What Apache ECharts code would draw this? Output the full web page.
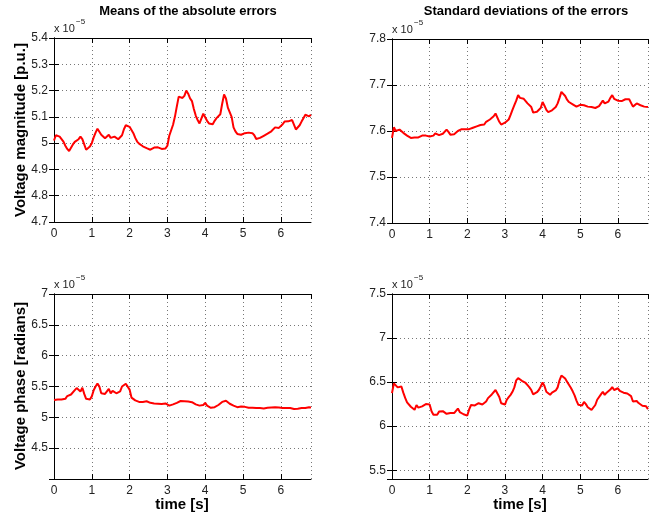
<!DOCTYPE html>
<html>
<head>
<meta charset="utf-8">
<script src="https://cdn.jsdelivr.net/npm/echarts@6/dist/echarts.min.js"></script>
<style>html,body{margin:0;padding:0;background:#fff;}#c{width:661px;height:518px;}</style>
</head>
<body>
<div id="c"></div>
<script>
// time sampling (s)
const tStart = 0;
const tStep = 0.05;
const xTicks = [0, 1, 2, 3, 4, 5, 6];

// values in units of 1e-5
const meanMagnitude = [
5.010,5.030,5.030,5.025,5.020,5.006,4.990,4.978,4.970,4.972,
4.995,5.005,5.010,5.015,5.025,5.015,4.995,4.975,4.980,4.987,
5.000,5.022,5.040,5.055,5.050,5.032,5.028,5.019,5.025,5.032,
5.020,5.018,5.025,5.020,5.015,5.012,5.030,5.053,5.068,5.070,
5.062,5.050,5.038,5.020,5.006,4.998,4.992,4.988,4.985,4.981,
4.978,4.975,4.980,4.983,4.987,4.984,4.981,4.978,4.975,4.980,
4.990,5.028,5.034,5.070,5.101,5.140,5.177,5.180,5.172,5.180,
5.200,5.188,5.170,5.160,5.130,5.105,5.088,5.075,5.080,5.112,
5.105,5.085,5.075,5.068,5.072,5.085,5.095,5.100,5.110,5.150,
5.185,5.170,5.135,5.128,5.100,5.060,5.045,5.035,5.030,5.032,
5.035,5.038,5.036,5.040,5.042,5.038,5.030,5.016,5.018,5.020,
5.020,5.028,5.032,5.036,5.042,5.045,5.052,5.060,5.063,5.058,
5.060,5.072,5.082,5.084,5.083,5.085,5.088,5.095,5.052,5.055,
5.068,5.082,5.095,5.108,5.105,5.102,5.108
];
const stdMagnitude = [
7.585,7.608,7.600,7.598,7.603,7.600,7.596,7.593,7.590,7.588,
7.585,7.584,7.586,7.587,7.586,7.588,7.590,7.591,7.590,7.589,
7.588,7.587,7.590,7.595,7.593,7.591,7.592,7.594,7.597,7.603,
7.598,7.592,7.591,7.593,7.596,7.600,7.602,7.604,7.603,7.604,
7.605,7.604,7.607,7.607,7.609,7.610,7.612,7.613,7.616,7.614,
7.620,7.623,7.625,7.628,7.632,7.638,7.636,7.620,7.614,7.613,
7.618,7.622,7.625,7.635,7.646,7.656,7.666,7.678,7.672,7.668,
7.670,7.668,7.660,7.656,7.652,7.640,7.636,7.642,7.644,7.650,
7.663,7.655,7.646,7.641,7.643,7.645,7.648,7.652,7.660,7.672,
7.685,7.684,7.676,7.668,7.663,7.660,7.658,7.655,7.653,7.653,
7.657,7.658,7.656,7.654,7.653,7.654,7.652,7.651,7.650,7.652,
7.654,7.658,7.666,7.660,7.660,7.664,7.672,7.678,7.670,7.670,
7.666,7.667,7.665,7.668,7.669,7.668,7.669,7.665,7.653,7.655,
7.660,7.660,7.656,7.655,7.653,7.650,7.652
];
const meanPhase = [
5.280,5.300,5.290,5.295,5.290,5.285,5.300,5.345,5.360,5.370,
5.400,5.440,5.475,5.460,5.420,5.480,5.380,5.300,5.310,5.290,
5.340,5.440,5.500,5.550,5.500,5.390,5.410,5.380,5.400,5.460,
5.390,5.430,5.410,5.390,5.400,5.420,5.500,5.530,5.545,5.540,
5.450,5.320,5.290,5.275,5.260,5.250,5.245,5.250,5.255,5.260,
5.240,5.235,5.230,5.225,5.220,5.220,5.218,5.215,5.220,5.225,
5.210,5.190,5.195,5.210,5.218,5.235,5.255,5.265,5.255,5.260,
5.262,5.255,5.250,5.245,5.230,5.210,5.205,5.190,5.180,5.200,
5.235,5.190,5.170,5.155,5.150,5.165,5.180,5.200,5.230,5.250,
5.275,5.270,5.240,5.220,5.200,5.190,5.175,5.165,5.170,5.175,
5.180,5.170,5.160,5.155,5.150,5.155,5.152,5.150,5.145,5.150,
5.147,5.145,5.150,5.155,5.152,5.160,5.168,5.165,5.160,5.158,
5.155,5.150,5.155,5.150,5.155,5.150,5.140,5.135,5.130,5.140,
5.145,5.150,5.155,5.150,5.155,5.165,5.160
];
const stdPhase = [
6.375,6.485,6.480,6.440,6.445,6.450,6.380,6.320,6.270,6.250,
6.220,6.200,6.186,6.240,6.210,6.205,6.225,6.240,6.250,6.230,
6.246,6.170,6.130,6.110,6.130,6.165,6.175,6.170,6.165,6.140,
6.130,6.150,6.155,6.148,6.170,6.200,6.160,6.140,6.135,6.125,
6.120,6.190,6.240,6.240,6.235,6.245,6.260,6.250,6.245,6.232,
6.280,6.318,6.340,6.360,6.380,6.410,6.400,6.330,6.260,6.250,
6.245,6.300,6.330,6.355,6.390,6.440,6.520,6.545,6.525,6.515,
6.505,6.490,6.465,6.440,6.410,6.360,6.350,6.385,6.410,6.450,
6.495,6.455,6.390,6.370,6.356,6.380,6.390,6.405,6.440,6.520,
6.575,6.583,6.540,6.505,6.470,6.435,6.395,6.350,6.290,6.242,
6.235,6.235,6.275,6.250,6.215,6.195,6.185,6.178,6.240,6.300,
6.315,6.360,6.390,6.355,6.380,6.400,6.415,6.443,6.410,6.420,
6.430,6.400,6.383,6.380,6.375,6.370,6.367,6.340,6.280,6.290,
6.285,6.262,6.245,6.231,6.235,6.225,6.193
];

const titles = ['Means of the absolute errors', 'Standard deviations of the errors'];
const rowLabels = ['Voltage magnitude [p.u.]', 'Voltage phase [radians]'];
const xLabel = 'time [s]';

const panels = [
  {data: meanMagnitude, yMin: 4.7, yMax: 5.4, yInt: 0.1, hideMin: false},
  {data: stdMagnitude,  yMin: 7.4, yMax: 7.8, yInt: 0.1, hideMin: false},
  {data: meanPhase,     yMin: 4.0, yMax: 7.0, yInt: 0.5, hideMin: true},
  {data: stdPhase,      yMin: 5.4, yMax: 7.5, yInt: null, hideMin: true}
];
const grids = [
  {left: 54, top: 38, width: 257, height: 184},
  {left: 392, top: 39, width: 256, height: 184},
  {left: 54, top: 294, width: 257, height: 185},
  {left: 392, top: 294, width: 256, height: 185}
];

const font = 'Liberation Sans, Arial, Helvetica, sans-serif';
const gridLine = {show: true, lineStyle: {color: '#777', width: 1, type: [1, 3]}};
const axisLine = {show: true, lineStyle: {color: '#000', width: 1}};

const xAxes = [], yAxes = [], series = [];
panels.forEach((p, i) => {
  const pts = p.data.map((v, k) => [+(tStart + k * tStep).toFixed(2), v]);
  const xMax = pts[pts.length - 1][0];
  xAxes.push({
    type: 'value', gridIndex: i, min: xTicks[0], max: xMax, interval: 1,
    axisLine: axisLine, axisTick: {inside: true, length: 5, lineStyle: {color: '#000'}},
    axisLabel: {color: '#222', fontSize: 12, fontFamily: font, margin: 6, showMaxLabel: false},
    splitLine: gridLine
  });
  xAxes.push({
    type: 'value', gridIndex: i, position: 'top', min: xTicks[0], max: xMax, interval: 1,
    axisLine: axisLine, axisTick: {inside: true, length: 5, lineStyle: {color: '#000'}},
    axisLabel: {show: false}, splitLine: {show: false}
  });
  const yBase = {
    type: 'value', gridIndex: i, min: p.yMin, max: p.yMax, scale: true,
    axisLine: axisLine, axisTick: {inside: true, length: 5, lineStyle: {color: '#000'}}
  };
  if (p.yInt) yBase.interval = p.yInt; else yBase.splitNumber = 4;
  yAxes.push(Object.assign({}, yBase, {
    position: 'left',
    axisLabel: {color: '#222', fontSize: 12, fontFamily: font, margin: 6, showMinLabel: !p.hideMin},
    splitLine: gridLine
  }));
  yAxes.push(Object.assign({}, yBase, {
    position: 'right', axisLabel: {show: false}, splitLine: {show: false}
  }));
  series.push({
    type: 'line', xAxisIndex: 2 * i, yAxisIndex: 2 * i, data: pts,
    showSymbol: false, symbol: 'none', lineStyle: {color: '#ff0000', width: 2},
    silent: true, animation: false, clip: true
  });
});

const graphic = [];
// x 10^-5 multipliers
grids.forEach(g => {
  graphic.push({type: 'text', left: g.left, top: g.top - 15,
    style: {text: 'x 10', fontSize: 11, fontFamily: font, fill: '#222'}});
  graphic.push({type: 'text', left: g.left + 22, top: g.top - 20,
    style: {text: '\u22125', fontSize: 8, fontFamily: font, fill: '#222'}});
});
// titles
[[188, titles[0]], [526, titles[1]]].forEach(([cx, t]) => {
  graphic.push({type: 'text', x: cx, y: 11,
    style: {text: t, fontSize: 13, fontWeight: 'bold', fontFamily: font,
      fill: '#000', align: 'center', verticalAlign: 'middle'}});
});
// row labels (rotated)
[130, 386].forEach((cy, r) => {
  graphic.push({type: 'text', x: 21, y: cy, rotation: Math.PI / 2,
    style: {text: rowLabels[r], fontSize: 15, fontWeight: 'bold', fontFamily: font,
      fill: '#000', align: 'center', verticalAlign: 'middle'}});
});
// x label
[182, 520].forEach(cx => {
  graphic.push({type: 'text', x: cx, y: 505,
    style: {text: xLabel, fontSize: 15, fontWeight: 'bold', fontFamily: font,
      fill: '#000', align: 'center', verticalAlign: 'middle'}});
});

const chart = echarts.init(document.getElementById('c'), null, {renderer: 'canvas'});
chart.setOption({
  animation: false,
  backgroundColor: '#fff',
  grid: grids.map(g => Object.assign({show: false, containLabel: false}, g)),
  xAxis: xAxes,
  yAxis: yAxes,
  series: series,
  graphic: graphic
});
</script>
</body>
</html>
